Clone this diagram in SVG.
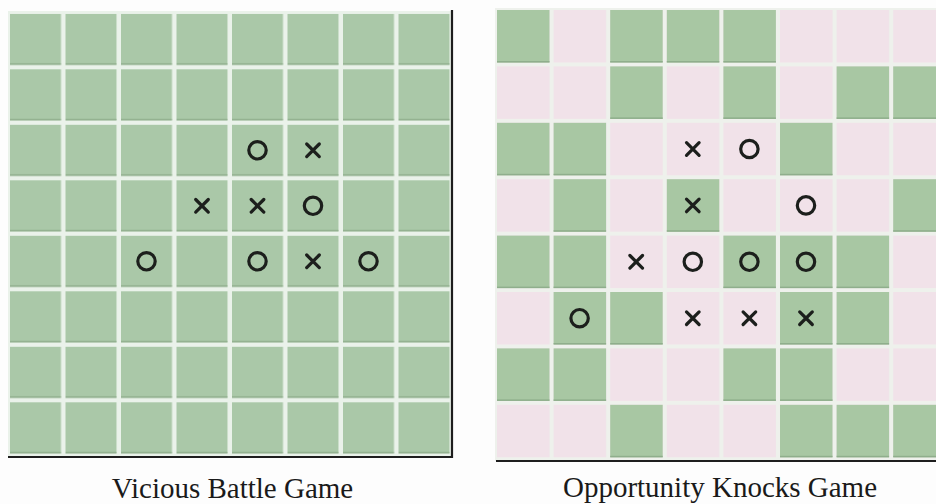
<svg xmlns="http://www.w3.org/2000/svg" xmlns:xlink="http://www.w3.org/1999/xlink" width="936" height="504" viewBox="0 0 936 504">
<style>
.mark{fill:none;stroke:#1c1f1c;stroke-width:3.2;stroke-linecap:round}
.green{fill:#a8c7a3}
.lgreen{fill:#aac8a8}
.pink{fill:#f1e2e9}
.edge{fill:#8fae8c}
.border{stroke:#1e1e1e;stroke-width:2.2;fill:none}
.label{font-family:"Liberation Serif","Times New Roman",serif;font-size:29px;fill:#1a1a1a;text-anchor:middle}
</style>
<defs>
<pattern id="lp" patternUnits="userSpaceOnUse" x="10" y="13.8" width="55.5" height="55.5">
<rect x="0" y="0" width="51" height="51" class="lgreen"/>
<rect x="0" y="49.5" width="51" height="1.5" class="edge"/>
</pattern>
<pattern id="rp" patternUnits="userSpaceOnUse" x="497" y="10" width="56.6" height="56.4">
<rect x="0" y="0" width="52.5" height="52.5" class="pink"/>
</pattern>
<g id="o"><circle r="8.7" class="mark"/></g>
<g id="x"><path d="M-6.3,-6.3 L6.3,6.3 M6.3,-6.3 L-6.3,6.3" class="mark"/></g>
<g id="gc"><rect width="52.5" height="52.5" class="green"/><rect y="51" width="52.5" height="1.5" class="edge"/></g>
</defs>
<rect width="936" height="504" fill="#fdfdfd"/>

<g id="vicious-board">
<rect x="8" y="11" width="444" height="446" fill="#eaf2ea"/>
<rect x="10" y="13.8" width="441" height="442" fill="url(#lp)"/>
<path d="M452,10 V458 M8,457 H453" class="border"/>
<g id="vicious-marks">
<use xlink:href="#o" x="257.5" y="150.3"/>
<use xlink:href="#x" x="313" y="150.3"/>
<use xlink:href="#x" x="202" y="205.8"/>
<use xlink:href="#x" x="257.5" y="205.8"/>
<use xlink:href="#o" x="313" y="205.8"/>
<use xlink:href="#o" x="146.5" y="261.3"/>
<use xlink:href="#o" x="257.5" y="261.3"/>
<use xlink:href="#x" x="313" y="261.3"/>
<use xlink:href="#o" x="368.5" y="261.3"/>
</g>
<text id="vicious-label" x="232.5" y="498" class="label">Vicious Battle Game</text>
</g>

<g id="opportunity-board">
<rect x="495" y="8" width="441" height="453" fill="#eef1ec"/>
<rect x="497" y="10" width="439" height="451" fill="url(#rp)"/>
<g id="green-cells">
<use xlink:href="#gc" x="497" y="10"/><use xlink:href="#gc" x="610.2" y="10"/><use xlink:href="#gc" x="666.8" y="10"/><use xlink:href="#gc" x="723.4" y="10"/>
<use xlink:href="#gc" x="610.2" y="66.4"/><use xlink:href="#gc" x="723.4" y="66.4"/><use xlink:href="#gc" x="836.6" y="66.4"/><use xlink:href="#gc" x="893.2" y="66.4"/>
<use xlink:href="#gc" x="497" y="122.8"/><use xlink:href="#gc" x="553.6" y="122.8"/><use xlink:href="#gc" x="780" y="122.8"/>
<use xlink:href="#gc" x="553.6" y="179.2"/><use xlink:href="#gc" x="666.8" y="179.2"/><use xlink:href="#gc" x="893.2" y="179.2"/>
<use xlink:href="#gc" x="497" y="235.6"/><use xlink:href="#gc" x="553.6" y="235.6"/><use xlink:href="#gc" x="723.4" y="235.6"/><use xlink:href="#gc" x="780" y="235.6"/><use xlink:href="#gc" x="836.6" y="235.6"/>
<use xlink:href="#gc" x="553.6" y="292"/><use xlink:href="#gc" x="610.2" y="292"/><use xlink:href="#gc" x="780" y="292"/><use xlink:href="#gc" x="836.6" y="292"/>
<use xlink:href="#gc" x="497" y="348.4"/><use xlink:href="#gc" x="553.6" y="348.4"/><use xlink:href="#gc" x="723.4" y="348.4"/><use xlink:href="#gc" x="780" y="348.4"/>
<use xlink:href="#gc" x="610.2" y="404.8"/><use xlink:href="#gc" x="780" y="404.8"/><use xlink:href="#gc" x="836.6" y="404.8"/><use xlink:href="#gc" x="893.2" y="404.8"/>
</g>
<path d="M496,461 H936" class="border"/>
<g id="opportunity-marks">
<use xlink:href="#x" x="692.8" y="149"/>
<use xlink:href="#o" x="749.4" y="149"/>
<use xlink:href="#x" x="692.8" y="205.4"/>
<use xlink:href="#o" x="806" y="205.4"/>
<use xlink:href="#x" x="636.2" y="261.8"/>
<use xlink:href="#o" x="692.8" y="261.8"/>
<use xlink:href="#o" x="749.4" y="261.8"/>
<use xlink:href="#o" x="806" y="261.8"/>
<use xlink:href="#o" x="579.6" y="318.2"/>
<use xlink:href="#x" x="692.8" y="318.2"/>
<use xlink:href="#x" x="749.4" y="318.2"/>
<use xlink:href="#x" x="806" y="318.2"/>
</g>
<text id="opportunity-label" x="720" y="497" class="label">Opportunity Knocks Game</text>
</g>
</svg>
